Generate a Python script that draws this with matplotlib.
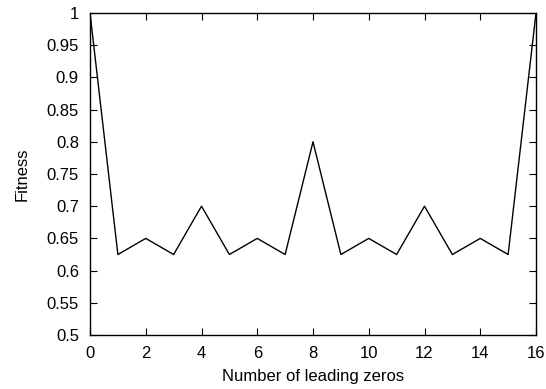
import matplotlib
matplotlib.use("Agg")
import matplotlib.pyplot as plt
import numpy as np

plt.rcParams['font.family'] = ['Liberation Sans', 'DejaVu Sans']

# number of leading zeros vs fitness
zeros = list(range(17))
fitness = [1.0, 0.625, 0.65, 0.625, 0.7, 0.625, 0.65, 0.625, 0.8,
           0.625, 0.65, 0.625, 0.7, 0.625, 0.65, 0.625, 1.0]
yticks = [0.5, 0.55, 0.6, 0.65, 0.7, 0.75, 0.8, 0.85, 0.9, 0.95, 1.0]
ylabels = ['0.5', '0.55', '0.6', '0.65', '0.7', '0.75', '0.8',
           '0.85', '0.9', '0.95', '1']

fig = plt.figure(figsize=(5.46, 3.89), dpi=100)
ax = fig.add_axes([90/546, 1 - 335/389, (536 - 90)/546, (335 - 13)/389])

ax.plot(zeros, fitness, color='black', linewidth=1)

ax.set_xlim(0, 16)
ax.set_ylim(0.5, 1.0)
ax.set_xticks(np.arange(0, 17, 2))
ax.set_yticks(yticks)
ax.set_yticklabels(ylabels)
ax.tick_params(direction='in', top=True, right=True, length=5, width=0.8,
               labelsize=12, pad=8)
for s in ax.spines.values():
    s.set_linewidth(1)

ax.set_xlabel('Number of leading zeros', fontsize=12, labelpad=6)
ax.set_ylabel('Fitness', fontsize=12, labelpad=12)

fig.savefig('out.png', dpi=100)
